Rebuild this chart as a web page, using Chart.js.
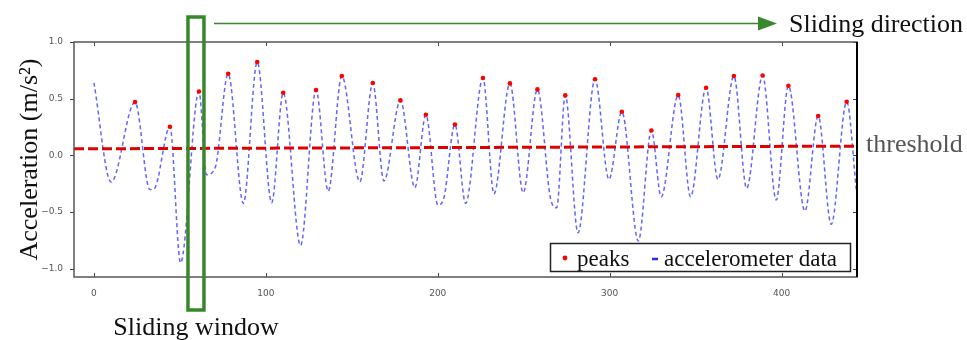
<!DOCTYPE html>
<html>
<head>
<meta charset="utf-8">
<script src="https://cdn.jsdelivr.net/npm/chart.js@4"></script>
<style>
  body { margin: 0; background: #fff; }
  canvas { display: block; }
</style>
</head>
<body>
<canvas id="myChart" width="967" height="340"></canvas>
<script>
// accelerometer trace (turning points)
const accelX = [0, 10, 23.9, 32.5, 35, 44.2, 50.4, 61.1, 65.5, 70.5, 78.1, 86.9, 95, 103.4, 110.1, 120.2,
  129.2, 136.3, 144.2, 154.7, 162.2, 168.7, 178.3, 186.7, 193.1, 200.1, 203.6, 210, 216.2, 226.3, 232.7,
  242, 249.7, 258, 265.5, 269.2, 274.2, 281.6, 291.5, 299.6, 307.1, 316.7, 324.3, 330, 339.9, 347.1,
  356.1, 363, 372.3, 379.7, 389, 396.9, 404, 413.6, 421.3, 428.9, 437.9, 443.5];
const accelY = [0.64, -0.235, 0.47, -0.30, -0.295, 0.253, -0.946, 0.564, -0.17, -0.11, 0.72, -0.423, 0.823, -0.417, 0.553, -0.794,
  0.576, -0.315, 0.70, -0.232, 0.638, -0.226, 0.485, -0.285, 0.359, -0.438, -0.373, 0.273, -0.423, 0.682, -0.338,
  0.635, -0.329, 0.582, -0.37, -0.461, 0.529, -0.682, 0.672, -0.212, 0.385, -0.755, 0.22, -0.365, 0.532, -0.365,
  0.597, -0.212, 0.70, -0.29, 0.704, -0.394, 0.614, -0.491, 0.347, -0.608, 0.473, -0.30];

const peakX = [23.9, 44.2, 61.1, 78.1, 95, 110.1, 129.2, 144.2, 162.2, 178.3, 193.1, 210, 226.3, 242, 258,
  274.2, 291.5, 307.1, 324.3, 339.9, 356.1, 372.3, 389, 404, 421.3, 437.9];
const peakY = [0.47, 0.253, 0.564, 0.72, 0.823, 0.553, 0.576, 0.70, 0.638, 0.485, 0.359, 0.273, 0.682, 0.635, 0.582,
  0.529, 0.672, 0.385, 0.22, 0.532, 0.597, 0.70, 0.704, 0.614, 0.347, 0.473];

const thresholdX = [-11.6, 443.9];
const thresholdY = [0.058, 0.082];

const xTicks = [0, 100, 200, 300, 400];
const yTicks = [-1.0, -0.5, 0.0, 0.5, 1.0];
const yTickLabels = ['\u22121.0', '\u22120.5', '0.0', '0.5', '1.0'];

const windowRange = [54.7, 64];

const serif = "'Liberation Serif', 'DejaVu Serif', serif";
const green = 'rgb(56, 135, 45)';

function toPoints(xs, ys) {
    return xs.map((x, i) => ({ x: x, y: ys[i] }));
}

const decorations = {
    id: 'decorations',
    afterDraw(chart) {
        const ctx = chart.ctx;
        const a = chart.chartArea;
        const xs = chart.scales.x;
        const ys = chart.scales.y;
        ctx.save();

        // inward tick marks
        ctx.strokeStyle = '#444';
        ctx.lineWidth = 1;
        ctx.beginPath();
        xTicks.forEach(v => {
            const px = Math.round(xs.getPixelForValue(v)) + 0.5;
            ctx.moveTo(px, a.bottom); ctx.lineTo(px, a.bottom - 4);
            ctx.moveTo(px, a.top); ctx.lineTo(px, a.top + 4);
        });
        yTicks.forEach(v => {
            const py = Math.round(ys.getPixelForValue(v)) + 0.5;
            ctx.moveTo(a.left, py); ctx.lineTo(a.left - 4, py);
            ctx.moveTo(a.right, py); ctx.lineTo(a.right - 4, py);
        });
        ctx.stroke();

        // frame
        ctx.strokeStyle = '#555';
        ctx.lineWidth = 1.5;
        ctx.strokeRect(a.left, a.top, a.right - a.left, a.bottom - a.top);
        ctx.strokeStyle = '#000';
        ctx.lineWidth = 2;
        ctx.beginPath();
        ctx.moveTo(a.right, a.top); ctx.lineTo(a.right, a.bottom);
        ctx.stroke();

        // legend box
        const lx = 550.5, ly = 243.5, lw = 300, lh = 28;
        ctx.fillStyle = '#fff';
        ctx.fillRect(lx, ly, lw, lh);
        ctx.strokeStyle = '#222';
        ctx.lineWidth = 1.5;
        ctx.strokeRect(lx, ly, lw, lh);
        const peaks = chart.data.datasets[0];
        const accel = chart.data.datasets[2];
        ctx.fillStyle = peaks.pointBackgroundColor;
        ctx.beginPath();
        ctx.arc(565, 258, 2.4, 0, Math.PI * 2);
        ctx.fill();
        ctx.strokeStyle = 'rgb(40, 40, 255)';
        ctx.lineWidth = 2.5;
        ctx.beginPath();
        ctx.moveTo(652, 259); ctx.lineTo(658, 259);
        ctx.stroke();
        ctx.fillStyle = '#111';
        ctx.font = '23px ' + serif;
        ctx.textBaseline = 'alphabetic';
        ctx.textAlign = 'left';
        ctx.fillText(peaks.label, 577, 266);
        ctx.fillText(accel.label, 664, 266);

        // sliding window
        const w0 = xs.getPixelForValue(windowRange[0]);
        const w1 = xs.getPixelForValue(windowRange[1]);
        ctx.strokeStyle = green;
        ctx.lineWidth = 3.5;
        ctx.strokeRect(w0, 17, w1 - w0, 293);

        // sliding direction arrow
        ctx.lineWidth = 1.5;
        ctx.beginPath();
        ctx.moveTo(214, 23.5); ctx.lineTo(762, 23.5);
        ctx.stroke();
        ctx.fillStyle = green;
        ctx.beginPath();
        ctx.moveTo(758, 16.5); ctx.lineTo(777, 23.5); ctx.lineTo(758, 30.5);
        ctx.closePath();
        ctx.fill();

        ctx.font = '26px ' + serif;
        ctx.fillStyle = '#111';
        ctx.fillText('Sliding direction', 789, 32);
        ctx.textAlign = 'center';
        ctx.fillText('Sliding window', (w0 + w1) / 2, 335);
        ctx.textAlign = 'left';
        ctx.fillStyle = '#555';
        ctx.fillText('threshold', 866, 152);

        ctx.restore();
    }
};

document.addEventListener('DOMContentLoaded', function() {
    const ctx = document.getElementById('myChart').getContext('2d');

    const myChart = new Chart(ctx, {
        type: 'scatter',
        data: {
            datasets: [{
                label: 'peaks',
                data: toPoints(peakX, peakY),
                pointRadius: 2.3,
                pointBackgroundColor: 'rgb(255, 0, 0)',
                pointBorderWidth: 0,
                showLine: false
            }, {
                label: 'threshold',
                data: toPoints(thresholdX, thresholdY),
                showLine: true,
                borderColor: 'rgb(225, 0, 0)',
                borderWidth: 3,
                borderDash: [10, 4],
                pointRadius: 0
            }, {
                label: 'accelerometer data',
                data: toPoints(accelX, accelY),
                showLine: true,
                cubicInterpolationMode: 'monotone',
                borderColor: 'rgba(60, 60, 255, 0.8)',
                borderWidth: 1.5,
                borderDash: [4, 3],
                pointRadius: 0
            }]
        },
        options: {
            responsive: false,
            animation: false,
            layout: { padding: { top: 42, right: 110, left: 0, bottom: 0 } },
            plugins: {
                legend: { display: false },
                tooltip: { enabled: false }
            },
            scales: {
                x: {
                    type: 'linear',
                    min: -11.6,
                    max: 443.9,
                    grid: { display: false },
                    border: { display: false },
                    afterBuildTicks: scale => { scale.ticks = xTicks.map(v => ({ value: v })); },
                    afterFit: scale => { scale.height = 63; },
                    ticks: {
                        padding: 3,
                        color: '#555',
                        font: { family: 'DejaVu Sans', size: 9 },
                        maxRotation: 0,
                        callback: v => String(v)
                    }
                },
                y: {
                    min: -1.072,
                    max: 1.0,
                    grid: { display: false },
                    border: { display: false },
                    afterBuildTicks: scale => { scale.ticks = yTicks.map(v => ({ value: v })); },
                    afterFit: scale => { scale.width = 74; },
                    ticks: {
                        padding: 3,
                        color: '#555',
                        font: { family: 'DejaVu Sans', size: 9 },
                        callback: v => yTickLabels[yTicks.indexOf(v)]
                    },
                    title: {
                        display: true,
                        text: 'Acceleration (m/s\u00b2)',
                        color: '#111',
                        font: { family: serif, size: 26 },
                        padding: { top: 15, bottom: 0 }
                    }
                }
            }
        },
        plugins: [decorations]
    });
});
</script>
</body>
</html>
